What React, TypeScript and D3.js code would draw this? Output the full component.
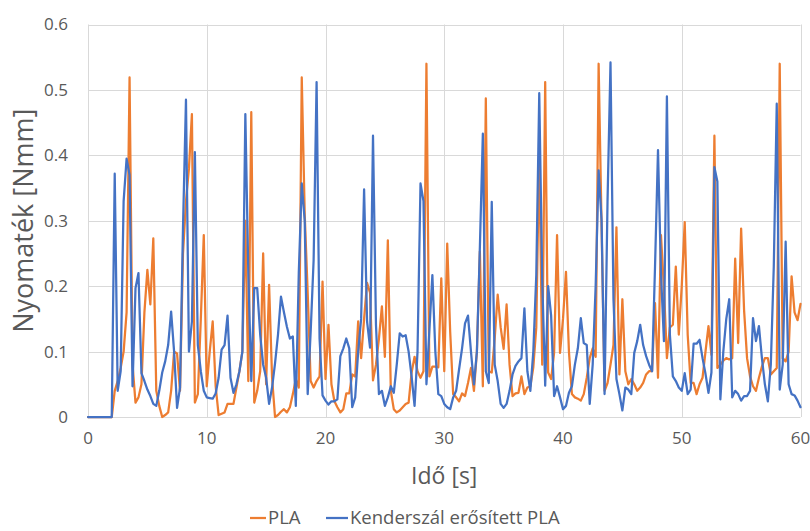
import * as d3 from 'd3';
import React from 'react';

// sampling step of the measurement (s)
const STEP = 0.25;

const seriesNames = ['PLA', 'Kenderszál erősített PLA'];
const seriesColors = ['#ED7D31', '#4472C4'];

// PLA torque [Nmm], one value every 0.25 s from 0 to 60 s
const plaValues = [
  0, 0, 0, 0, 0, 0, 0, 0, 0, 0.04,
  0.055, 0.075, 0.1, 0.16, 0.519, 0.08, 0.022, 0.03, 0.05, 0.16,
  0.225, 0.172, 0.273, 0.04, 0.017, 0, 0.003, 0.007, 0.04, 0.1,
  0.097, 0.04, 0.25, 0.33, 0.38, 0.463, 0.022, 0.035, 0.15, 0.278,
  0.047, 0.1, 0.146, 0.047, 0.003, 0.005, 0.007, 0.02, 0.02, 0.02,
  0.045, 0.07, 0.1, 0.3, 0.055, 0.466, 0.022, 0.04, 0.07, 0.25,
  0.05, 0.202, 0.06, 0, 0.003, 0.008, 0.012, 0.007, 0.015, 0.035,
  0.058, 0.045, 0.519, 0.31, 0.19, 0.055, 0.045, 0.055, 0.062, 0.207,
  0.058, 0.141, 0.05, 0.024, 0.015, 0.007, 0.012, 0.036, 0.036, 0.065,
  0.062, 0.146, 0.09, 0.15, 0.205, 0.19, 0.056, 0.08, 0.12, 0.169,
  0.092, 0.27, 0.04, 0.012, 0.007, 0.01, 0.015, 0.02, 0.022, 0.068,
  0.092, 0.07, 0.06, 0.07, 0.54, 0.062, 0.077, 0.077, 0.076, 0.212,
  0.07, 0.265, 0.13, 0.035, 0.03, 0.024, 0.036, 0.032, 0.052, 0.075,
  0.04, 0.1, 0.253, 0.047, 0.487, 0.07, 0.068, 0.12, 0.187, 0.137,
  0.104, 0.172, 0.08, 0.032, 0.036, 0.037, 0.062, 0.035, 0.045, 0.047,
  0.076, 0.137, 0.41, 0.08, 0.512, 0.068, 0.058, 0.098, 0.278, 0.098,
  0.15, 0.222, 0.1, 0.035, 0.03, 0.028, 0.025, 0.035, 0.06, 0.09,
  0.105, 0.092, 0.54, 0.29, 0.04, 0.052, 0.08, 0.11, 0.29, 0.065,
  0.18, 0.07, 0.05, 0.058, 0.05, 0.04, 0.045, 0.052, 0.065, 0.07,
  0.07, 0.174, 0.06, 0.278, 0.197, 0.09, 0.137, 0.141, 0.23, 0.126,
  0.2, 0.298, 0.126, 0.052, 0.052, 0.035, 0.05, 0.06, 0.1, 0.139,
  0.095, 0.43, 0.075, 0.08, 0.086, 0.09, 0.088, 0.09, 0.242, 0.113,
  0.288, 0.163, 0.09, 0.062, 0.047, 0.04, 0.06, 0.077, 0.09, 0.09,
  0.065, 0.07, 0.075, 0.54, 0.09, 0.085, 0.1, 0.215, 0.16, 0.148,
  0.173,
];

// hemp fibre reinforced PLA torque [Nmm]
const hempValues = [
  0, 0, 0, 0, 0, 0, 0, 0, 0, 0.372,
  0.04, 0.07, 0.33, 0.395, 0.37, 0.047, 0.197, 0.22, 0.067, 0.055,
  0.042, 0.032, 0.02, 0.017, 0.04, 0.068, 0.085, 0.11, 0.161, 0.1,
  0.014, 0.045, 0.29, 0.485, 0.1, 0.146, 0.405, 0.11, 0.07, 0.04,
  0.03, 0.029, 0.028, 0.036, 0.06, 0.103, 0.11, 0.155, 0.06, 0.037,
  0.05, 0.07, 0.1, 0.463, 0.22, 0.055, 0.197, 0.197, 0.126, 0.08,
  0.06, 0.02, 0.045, 0.082, 0.126, 0.184, 0.16, 0.138, 0.12, 0.123,
  0.017, 0.22, 0.357, 0.3, 0.035, 0.13, 0.24, 0.512, 0.12, 0.033,
  0.025, 0.019, 0.024, 0.024, 0.027, 0.093, 0.105, 0.12, 0.105, 0.015,
  0.03, 0.1, 0.15, 0.348, 0.146, 0.106, 0.43, 0.141, 0.035, 0.04,
  0.017, 0.03, 0.047, 0.037, 0.08, 0.128, 0.123, 0.125, 0.1, 0.062,
  0.017, 0.1, 0.357, 0.33, 0.05, 0.133, 0.217, 0.1, 0.035, 0.032,
  0.02, 0.015, 0.012, 0.03, 0.04, 0.073, 0.105, 0.143, 0.155, 0.1,
  0.05, 0.1, 0.26, 0.433, 0.07, 0.052, 0.329, 0.08, 0.055, 0.02,
  0.014, 0.02, 0.04, 0.065, 0.078, 0.085, 0.09, 0.166, 0.07, 0.04,
  0.1, 0.217, 0.495, 0.21, 0.048, 0.2, 0.155, 0.032, 0.047, 0.03,
  0.012, 0.017, 0.037, 0.047, 0.08, 0.105, 0.151, 0.113, 0.11, 0.02,
  0.08, 0.2, 0.377, 0.3, 0.035, 0.33, 0.542, 0.18, 0.058, 0.035,
  0.01, 0.045, 0.042, 0.035, 0.098, 0.116, 0.141, 0.11, 0.093, 0.08,
  0.07, 0.23, 0.408, 0.22, 0.116, 0.49, 0.126, 0.062, 0.055, 0.045,
  0.04, 0.067, 0.035, 0.042, 0.112, 0.112, 0.118, 0.09, 0.066, 0.037,
  0.068, 0.382, 0.36, 0.027, 0.1, 0.15, 0.18, 0.03, 0.04, 0.035,
  0.025, 0.032, 0.032, 0.04, 0.151, 0.116, 0.139, 0.09, 0.05, 0.024,
  0.08, 0.23, 0.479, 0.042, 0.08, 0.268, 0.05, 0.035, 0.033, 0.025,
  0.015,
];

const xTicks = [0, 10, 20, 30, 40, 50, 60];
const yTicks = [0, 0.1, 0.2, 0.3, 0.4, 0.5, 0.6];
const yTickLabels = ['0', '0.1', '0.2', '0.3', '0.4', '0.5', '0.6'];

const W = 810;
const H = 531;
const plot = { left: 88, right: 800.5, top: 24.5, bottom: 417 };
const FONT = "'Open Sans', 'Noto Sans', sans-serif";
const TEXT = '#595959';
const GRID = '#D9D9D9';

export default function App() {
  const x = d3.scaleLinear().domain([0, 60]).range([plot.left, plot.right]);
  const y = d3.scaleLinear().domain([0, 0.6]).range([plot.bottom, plot.top]);

  const line = d3
    .line<number>()
    .x((_, i) => x(i * STEP))
    .y((d) => y(d));

  const series = [plaValues, hempValues];

  return (
    <svg
      width={W}
      height={H}
      style={{ position: 'absolute', left: 0, top: 0, background: '#fff' }}
      fontFamily={FONT}
    >
      <rect width={W} height={H} fill="#fff" />
      {/* grid */}
      {yTicks.map((t) => (
        <line
          key={'gy' + t}
          x1={plot.left}
          x2={plot.right}
          y1={Math.round(y(t)) + 0.5}
          y2={Math.round(y(t)) + 0.5}
          stroke={GRID}
          strokeWidth={1}
        />
      ))}
      {xTicks.map((t) => (
        <line
          key={'gx' + t}
          x1={Math.round(x(t)) + 0.5}
          x2={Math.round(x(t)) + 0.5}
          y1={plot.top}
          y2={plot.bottom}
          stroke={GRID}
          strokeWidth={1}
        />
      ))}

      {/* series */}
      {series.map((s, k) => (
        <path
          key={seriesNames[k]}
          d={line(s) || ''}
          fill="none"
          stroke={seriesColors[k]}
          strokeWidth={2.25}
          strokeLinejoin="round"
          strokeLinecap="round"
        />
      ))}

      {/* y tick labels */}
      {yTicks.map((t, i) => (
        <text
          key={'ty' + t}
          x={68}
          y={y(t)}
          dy="0.35em"
          textAnchor="end"
          fontSize={17}
          fill={TEXT}
        >
          {yTickLabels[i]}
        </text>
      ))}
      {/* x tick labels */}
      {xTicks.map((t) => (
        <text
          key={'tx' + t}
          x={x(t)}
          y={438}
          dy="0.35em"
          textAnchor="middle"
          fontSize={17}
          fill={TEXT}
        >
          {t}
        </text>
      ))}

      {/* axis titles */}
      <text
        x={(plot.left + plot.right) / 2}
        y={476}
        dy="0.35em"
        textAnchor="middle"
        fontSize={23}
        fill={TEXT}
      >
        Idő [s]
      </text>
      <text
        transform={`translate(24, ${(plot.top + plot.bottom) / 2}) rotate(-90)`}
        dy="0.35em"
        textAnchor="middle"
        fontSize={27}
        fill={TEXT}
      >
        Nyomaték [Nmm]
      </text>

      {/* legend */}
      <g transform="translate(0, 518)">
        <line x1={250} x2={266} y1={0} y2={0} stroke={seriesColors[0]} strokeWidth={2.25} />
        <text x={268} dy="0.35em" fontSize={18.5} fill={TEXT}>
          {seriesNames[0]}
        </text>
        <line x1={326} x2={348} y1={0} y2={0} stroke={seriesColors[1]} strokeWidth={2.25} />
        <text x={350} dy="0.35em" fontSize={18.5} fill={TEXT}>
          {seriesNames[1]}
        </text>
      </g>
    </svg>
  );
}
